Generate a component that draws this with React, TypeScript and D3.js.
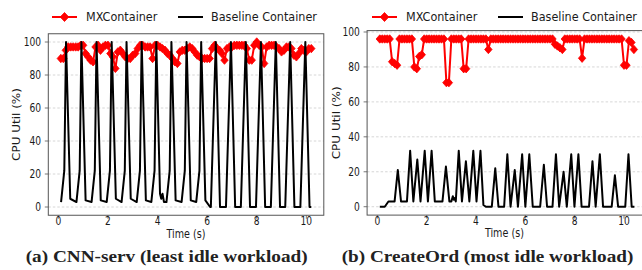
import React from "react";
import * as d3 from "d3";

// ---------- Data ----------
// Panel (a) CNN-serv
const cnnMxTime = [0.1,0.2,0.3,0.4,0.5,0.6,0.7,0.8,0.9,1.0,1.1,1.2,1.3,1.4,1.5,1.6,1.7,1.8,1.9,2.0,2.1,2.2,2.3,2.4,2.5,2.6,2.7,2.8,2.9,3.0,3.1,3.2,3.3,3.4,3.5,3.6,3.7,3.8,3.9,4.0,4.1,4.2,4.3,4.4,4.5,4.6,4.7,4.8,4.9,5.0,5.1,5.2,5.3,5.4,5.5,5.6,5.7,5.8,5.9,6.0,6.1,6.2,6.3,6.4,6.5,6.6,6.7,6.8,6.9,7.0,7.1,7.2,7.3,7.4,7.5,7.6,7.7,7.8,7.9,8.0,8.1,8.2,8.3,8.4,8.5,8.6,8.7,8.8,8.9,9.0,9.1,9.2,9.3,9.4,9.5,9.6,9.7,9.8,9.9,10.0,10.1,10.2];
const cnnMxUtil = [90,90,95,97,97,97,97,97,98,98,93,91,89,88,97,98,95,97,98,98,93,91,84,94,95,93,91,90,90,92,93,96,98,98,97,97,97,90,98,98,97,96,95,93,92,90,88,87,94,95,95,96,97,96,94,92,91,90,90,90,90,96,98,96,95,93,89,96,97,97,98,98,98,98,98,96,89,89,98,100,98,97,87,97,98,98,98,97,96,94,95,97,97,96,92,91,93,96,95,94,96,96];

const cnnBaseTime = [0.11,0.24,0.31,0.48,0.73,0.86,0.93,1.10,1.34,1.47,1.54,1.71,1.95,2.08,2.15,2.32,2.55,2.68,2.75,2.92,3.16,3.29,3.36,3.53,3.75,3.88,3.95,4.10,4.15,4.20,4.26,4.36,4.49,4.56,4.73,4.97,5.10,5.17,5.34,5.56,5.69,5.76,5.93,6.12,6.15,6.35,6.52,6.76,6.96,7.13,7.36,7.56,7.73,7.97,8.17,8.34,8.57,8.77,8.94,9.15,9.35,9.52,9.76,9.96,10.13,10.2];
const cnnBaseUtil = [3,22,100,5,3,22,100,4,3,22,100,4,3,22,100,5,3,22,100,5,3,22,100,4,3,22,100,8,5,8,3,3,22,100,4,3,22,100,4,3,22,100,4,0,0,100,0,0,100,0,0,100,0,0,100,0,0,100,0,0,100,0,0,100,0,0];

// Panel (b) CreateOrd
const coMxTime = [0.1,0.2,0.3,0.4,0.5,0.6,0.7,0.8,0.9,1.0,1.1,1.2,1.3,1.4,1.5,1.6,1.7,1.8,1.9,2.0,2.1,2.2,2.3,2.4,2.5,2.6,2.7,2.8,2.9,3.0,3.1,3.2,3.3,3.4,3.5,3.6,3.7,3.8,3.9,4.0,4.1,4.2,4.3,4.4,4.5,4.6,4.7,4.8,4.9,5.0,5.1,5.2,5.3,5.4,5.5,5.6,5.7,5.8,5.9,6.0,6.1,6.2,6.3,6.4,6.5,6.6,6.7,6.8,6.9,7.0,7.1,7.2,7.3,7.4,7.5,7.6,7.7,7.8,7.9,8.0,8.1,8.2,8.3,8.4,8.5,8.6,8.7,8.8,8.9,9.0,9.1,9.2,9.3,9.4,9.5,9.6,9.7,9.8,9.9,10.0,10.1,10.2,10.3,10.4];
const coMxUtil = [96,96,96,96,96,83,82,81,96,96,96,96,96,96,80,79,86,87,96,96,96,96,96,96,96,96,96,71,71,96,96,96,96,96,79,79,96,96,96,96,96,96,96,96,90,96,96,96,96,96,96,96,96,96,96,96,96,96,96,96,96,96,96,96,96,96,96,96,96,96,96,93,92,91,90,96,96,96,96,96,96,96,85,96,96,96,96,96,96,96,96,96,96,96,96,96,96,96,96,81,81,95,94,90];

const coBaseTime = [0.1,0.3,0.45,0.7,0.83,0.96,1.2,1.33,1.46,1.62,1.75,1.92,2.05,2.2,2.33,2.64,2.78,2.92,3.0,3.06,3.1,3.14,3.18,3.3,3.43,3.59,3.73,3.89,4.02,4.18,4.3,4.4,4.64,4.78,4.91,5.14,5.27,5.4,5.57,5.7,5.87,6.0,6.16,6.3,6.6,6.75,6.88,7.1,7.24,7.37,7.55,7.68,7.86,7.99,8.15,8.28,8.58,8.72,8.85,9.02,9.15,9.5,9.63,9.76,10.05,10.18,10.31,10.42];
const coBaseUtil = [0,0,3,3,21,3,3,32,3,27,3,32,3,32,3,3,23,3,3,6,4,5,3,32,3,26,3,32,3,32,1,0,0,22,0,0,30,0,21,0,30,0,30,0,0,24,0,0,30,0,20,0,30,0,30,0,0,26,0,30,0,0,18,0,0,30,0,0];

const yTicks = [0, 20, 40, 60, 80, 100];
const xTicks = [0, 2, 4, 6, 8, 10];
const seriesNames = ["MXContainer", "Baseline Container"];
const captions = ["(a) CNN-serv (least idle workload)", "(b) CreateOrd (most idle workload)"];

const RED = "#ff0000";
const SPINE = "#555555";
const FONT = "DejaVu Sans, sans-serif";
const TXT = "#1a1a1a";

type PanelProps = {
  x0: number; x1: number; xDom: [number, number];
  yTop: number; yBot: number; yDom: [number, number];
  mxT: number[]; mxV: number[]; bT: number[]; bV: number[];
  ylabX: number; legendX: number; caption: string; captionX: number; captionLen: number;
  id: string;
};

function Diamond({ cx, cy, rx, ry }: { cx: number; cy: number; rx: number; ry: number }) {
  return <path d={`M${cx},${cy - ry}L${cx + rx},${cy}L${cx},${cy + ry}L${cx - rx},${cy}Z`} fill={RED} stroke={RED} strokeWidth={0.8} strokeLinejoin="round" />;
}

function SText({ x, y, sx, size, anchor, rot, children }: { x: number; y: number; sx: number; size: number; anchor: string; rot?: number; children: React.ReactNode }) {
  return (
    <text transform={`translate(${x},${y}) scale(${sx},1)${rot ? ` rotate(${rot})` : ""}`} textAnchor={anchor}
      fontFamily={FONT} fontSize={size} fill={TXT}>{children}</text>
  );
}

function Panel(p: PanelProps) {
  const x = d3.scaleLinear().domain(p.xDom).range([p.x0, p.x1]);
  const y = d3.scaleLinear().domain(p.yDom).range([p.yBot, p.yTop]);
  const mx = p.mxT.map((t, i) => [t, p.mxV[i]] as [number, number]);
  const bl = p.bT.map((t, i) => [t, p.bV[i]] as [number, number]);
  const line = d3.line<[number, number]>().x((d) => x(d[0])).y((d) => y(d[1]));
  const clipId = `clip-${p.id}`;
  const midY = (p.yTop + p.yBot) / 2;
  return (
    <g>
      <defs>
        <clipPath id={clipId}>
          <rect x={p.x0} y={p.yTop} width={p.x1 - p.x0} height={p.yBot - p.yTop} />
        </clipPath>
      </defs>
      {yTicks.map((v) => (
        <line key={`g${v}`} x1={p.x0} x2={p.x1} y1={y(v)} y2={y(v)} stroke="#cccccc" strokeWidth={0.8} strokeDasharray="2.5,2" />
      ))}
      <g clipPath={`url(#${clipId})`}>
        <path d={line(mx) || ""} fill="none" stroke={RED} strokeWidth={2} strokeLinejoin="round" />
        {mx.map((d, i) => (
          <Diamond key={i} cx={x(d[0])} cy={y(d[1])} rx={3.7} ry={4.2} />
        ))}
        <path d={line(bl) || ""} fill="none" stroke="#000" strokeWidth={2} strokeLinejoin="round" />
      </g>
      <rect x={p.x0} y={p.yTop} width={p.x1 - p.x0} height={p.yBot - p.yTop} fill="none" stroke={SPINE} strokeWidth={1} />
      {yTicks.map((v) => (
        <g key={`yt${v}`}>
          <line x1={p.x0 - 3.5} x2={p.x0} y1={y(v)} y2={y(v)} stroke={SPINE} strokeWidth={0.8} />
          <SText x={p.x0 - 7.2} y={y(v) + 4.1} sx={0.8} size={11.4} anchor="end">{v}</SText>
        </g>
      ))}
      {xTicks.map((v) => (
        <g key={`xt${v}`}>
          <line x1={x(v)} x2={x(v)} y1={p.yBot} y2={p.yBot + 3.5} stroke={SPINE} strokeWidth={0.8} />
          <SText x={x(v)} y={p.yBot + 10} sx={0.8} size={11.4} anchor="middle">{v}</SText>
        </g>
      ))}
      <SText x={x(5.15)} y={p.yBot + 22.3} sx={0.8} size={12} anchor="middle">Time (s)</SText>
      <SText x={p.ylabX} y={midY} sx={0.85} size={12} anchor="middle" rot={-90}>CPU Util (%)</SText>
      {/* legend */}
      <g>
        <line x1={p.legendX} x2={p.legendX + 25} y1={17} y2={17} stroke={RED} strokeWidth={2} />
        <Diamond cx={p.legendX + 12.5} cy={17} rx={4.3} ry={4.5} />
        <SText x={p.legendX + 34} y={21.4} sx={0.92} size={12.2} anchor="start">{seriesNames[0]}</SText>
        <line x1={p.legendX + 126} x2={p.legendX + 151} y1={17} y2={17} stroke="#000" strokeWidth={2} />
        <SText x={p.legendX + 159} y={21.4} sx={0.92} size={12.2} anchor="start">{seriesNames[1]}</SText>
      </g>
      <text x={p.captionX} y={262} fontFamily="Liberation Serif, serif" fontWeight="bold" fontSize={17} fill="#222" textLength={p.captionLen} lengthAdjust="spacingAndGlyphs">{p.caption}</text>
    </g>
  );
}

export default function App() {
  return (
    <svg width={642} height={270} style={{ position: "absolute", left: 0, top: 0, background: "#fff" }}>
      <rect width={642} height={270} fill="#fff" />
      <Panel id="a" x0={48.3} x1={323.8} xDom={[-0.405, 10.705]} yTop={33.75} yBot={215.25} yDom={[-5, 105]}
        mxT={cnnMxTime} mxV={cnnMxUtil} bT={cnnBaseTime} bV={cnnBaseUtil}
        ylabX={20} legendX={52} caption={captions[0]} captionX={25.7} captionLen={282} />
      <Panel id="b" x0={367.1} x1={646.6} xDom={[-0.415, 10.915]} yTop={30.6} yBot={215.1} yDom={[-4.8, 100.8]}
        mxT={coMxTime} mxV={coMxUtil} bT={coBaseTime} bV={coBaseUtil}
        ylabX={340} legendX={372} caption={captions[1]} captionX={341.7} captionLen={291.6} />
    </svg>
  );
}
